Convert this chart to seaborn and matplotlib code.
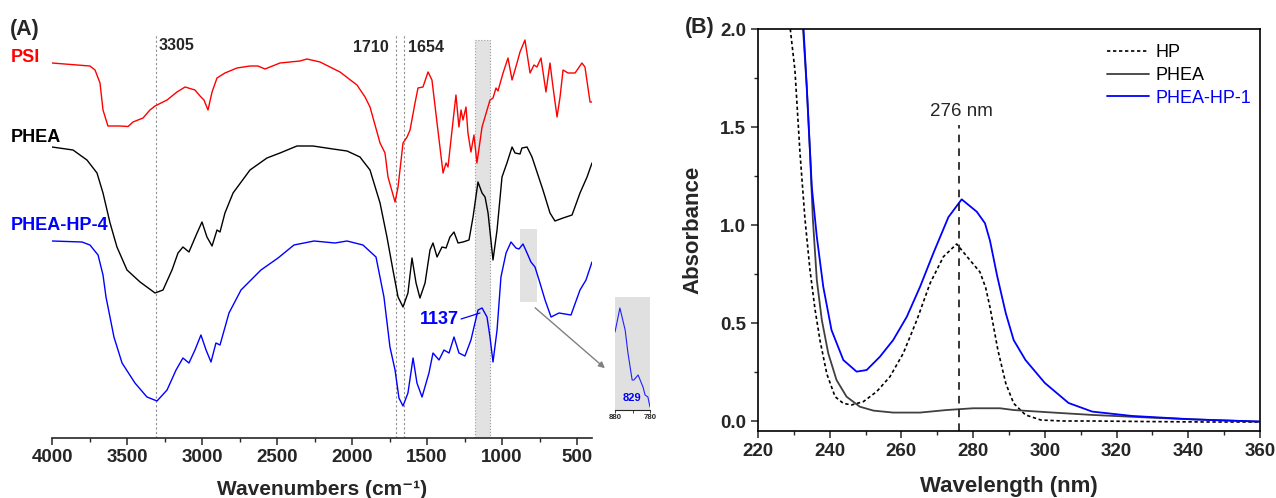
import numpy as np
import pandas as pd
import matplotlib
matplotlib.use("Agg")
import matplotlib.pyplot as plt
import seaborn as sns
from matplotlib.patches import Rectangle
from matplotlib.ticker import MultipleLocator
from matplotlib.lines import Line2D

# ---------------- (A) FTIR spectra, stacked (a.u., offsets included) ----------------
psi_wn = [4000, 3747, 3713, 3680, 3660, 3627, 3547, 3493, 3460, 3393, 3347, 3313, 3233, 3167,
          3113, 3047, 3013, 2987, 2960, 2933, 2900, 2847, 2767, 2680, 2627, 2580, 2480, 2347,
          2300, 2213, 2080, 1967, 1913, 1880, 1813, 1780, 1760, 1713, 1693, 1660, 1633, 1613,
          1580, 1560, 1527, 1493, 1467, 1433, 1393, 1373, 1360, 1333, 1307, 1287, 1273, 1260,
          1240, 1227, 1207, 1187, 1167, 1133, 1080, 1060, 1040, 1027, 993, 960, 933, 900, 880,
          847, 813, 787, 767, 740, 707, 680, 660, 633, 613, 593, 560, 513, 467, 447, 413, 400]
psi_t = [3.75, 3.72, 3.68, 3.55, 3.28, 3.12, 3.12, 3.115, 3.16, 3.20, 3.28, 3.32, 3.38, 3.46,
         3.51, 3.48, 3.42, 3.38, 3.28, 3.46, 3.60, 3.65, 3.70, 3.72, 3.72, 3.69, 3.75, 3.77,
         3.79, 3.76, 3.66, 3.53, 3.41, 3.31, 2.95, 2.85, 2.61, 2.36, 2.51, 2.95, 3.01, 3.08,
         3.35, 3.50, 3.51, 3.66, 3.58, 3.15, 2.65, 2.75, 2.71, 3.08, 3.43, 3.11, 3.28, 3.18,
         3.31, 3.05, 2.86, 3.03, 2.75, 3.11, 3.38, 3.40, 3.50, 3.47, 3.65, 3.80, 3.58, 3.75, 3.86,
         3.98, 3.65, 3.73, 3.71, 3.80, 3.46, 3.75, 3.51, 3.21, 3.41, 3.68, 3.65, 3.65, 3.75, 3.71, 3.36, 3.36]

phea_wn = [4000, 3860, 3767, 3700, 3660, 3613, 3567, 3500, 3413, 3313, 3260, 3200, 3160, 3127,
           3087, 3033, 3000, 2967, 2933, 2900, 2880, 2847, 2793, 2680, 2567, 2480, 2367, 2260,
           2127, 2033, 1947, 1880, 1813, 1767, 1727, 1693, 1660, 1627, 1600, 1573, 1547, 1513,
           1480, 1460, 1433, 1400, 1373, 1347, 1320, 1293, 1260, 1220, 1193, 1160, 1133, 1113,
           1093, 1060, 1033, 1000, 967, 933, 913, 880, 867, 833, 800, 727, 680, 647, 593, 533,
           480, 433, 400]
phea_t = [2.91, 2.88, 2.78, 2.65, 2.45, 2.15, 1.91, 1.68, 1.56, 1.45, 1.48, 1.68, 1.85, 1.91,
          1.86, 2.05, 2.16, 2.01, 1.92, 2.08, 2.06, 2.25, 2.45, 2.68, 2.80, 2.85, 2.92, 2.92,
          2.89, 2.87, 2.81, 2.68, 2.35, 2.01, 1.68, 1.41, 1.31, 1.45, 1.80, 1.55, 1.40, 1.55,
          1.88, 1.95, 1.81, 1.91, 1.90, 2.01, 2.06, 1.95, 1.96, 1.98, 2.21, 2.56, 2.45, 2.41,
          2.25, 1.78, 2.08, 2.61, 2.75, 2.91, 2.85, 2.84, 2.90, 2.91, 2.81, 2.48, 2.25, 2.17, 2.20, 2.23,
          2.45, 2.61, 2.75]

hp4_wn = [4000, 3800, 3747, 3693, 3660, 3640, 3587, 3533, 3447, 3367, 3300, 3233, 3173, 3127,
          3087, 3047, 3007, 2973, 2940, 2907, 2880, 2820, 2740, 2607, 2493, 2387, 2253, 2113,
          2033, 1927, 1840, 1787, 1747, 1713, 1687, 1660, 1627, 1593, 1567, 1533, 1487, 1460,
          1420, 1387, 1353, 1320, 1287, 1247, 1207, 1160, 1133, 1100, 1080, 1060, 1033, 1007,
          973, 940, 907, 887, 860, 833, 807, 780, 753, 713, 673, 620, 540, 480, 440, 400]
hp4_t = [1.97, 1.96, 1.93, 1.83, 1.63, 1.41, 1.01, 0.75, 0.55, 0.41, 0.37, 0.48, 0.68, 0.80,
         0.75, 0.88, 1.03, 0.88, 0.76, 0.95, 0.93, 1.25, 1.48, 1.68, 1.80, 1.93, 1.97, 1.95,
         1.97, 1.93, 1.81, 1.41, 0.91, 0.68, 0.40, 0.32, 0.45, 0.80, 0.55, 0.41, 0.65, 0.85,
         0.78, 0.88, 0.85, 1.01, 0.85, 0.82, 0.98, 1.28, 1.30, 1.21, 1.01, 0.76, 1.08, 1.61,
         1.85, 1.96, 1.90, 1.89, 1.94, 1.85, 1.76, 1.71, 1.58, 1.38, 1.21, 1.25, 1.23, 1.48, 1.58, 1.76]

# zoomed inset of PHEA-HP-4, 880-780 cm-1
inset_wn = [880, 866, 851, 843, 831, 826, 814, 800, 794, 786, 780]
inset_t = [0.78, 1.02, 0.80, 0.57, 0.30, 0.30, 0.35, 0.23, 0.15, 0.13, 0.03]

ftir_marks = [3305, 1710, 1654]

# ---------------- (B) UV-Vis ----------------
hp_wl = [228.5, 229.0, 230.3, 231.7, 233.1, 234.5, 235.9, 237.3, 239.2, 241.5, 243.8, 246.1,
         249.4, 253.1, 256.8, 260.5, 264.3, 268.0, 271.7, 275.4, 279.1, 281.9, 283.5, 284.7,
         286.9, 289.1, 291.3, 294.6, 298.9, 305, 313, 330, 345, 360]
hp_abs = [2.2, 2.0, 1.79, 1.37, 1.03, 0.77, 0.57, 0.41, 0.24, 0.124, 0.09, 0.082,
          0.099, 0.15, 0.226, 0.345, 0.515, 0.703, 0.838, 0.903, 0.821, 0.76, 0.68, 0.58,
          0.362, 0.192, 0.09, 0.031, 0.005, 0.0, 0.0, -0.003, -0.005, -0.005]

phea_wl = [232.0, 232.5, 233.6, 234.5, 235.3, 236.4, 237.8, 239.6, 241.9, 244.7, 248.4, 252.2,
           257.7, 265.2, 272.6, 280.0, 287.5, 291.3, 302.3, 313.2, 329.6, 346.1, 360]
phea_abs = [2.2, 2.02, 1.70, 1.37, 1.03, 0.72, 0.515, 0.345, 0.209, 0.124, 0.073, 0.053,
            0.043, 0.043, 0.056, 0.065, 0.065, 0.056, 0.043, 0.031, 0.017, 0.005, -0.003]

hp1_wl = [232.2, 232.7, 233.6, 235.0, 236.4, 238.2, 240.5, 243.8, 247.5, 250.3, 254.0, 257.7,
          261.5, 265.2, 268.9, 273.1, 276.8, 281.0, 283.3, 284.7, 286.7, 289.1, 291.3, 294.6,
          300.0, 306.6, 313.2, 324.2, 340.6, 360]
hp1_abs = [2.2, 2.0, 1.706, 1.195, 0.94, 0.685, 0.464, 0.311, 0.252, 0.26, 0.328, 0.413,
           0.532, 0.685, 0.856, 1.04, 1.131, 1.068, 1.009, 0.92, 0.74, 0.55, 0.413, 0.311,
           0.194, 0.092, 0.048, 0.026, 0.009, -0.003]

W, H = 1276, 498
sns.set_style("ticks")
plt.rcParams["font.family"] = ["Liberation Sans", "DejaVu Sans"]
plt.rcParams["font.weight"] = "bold"
plt.rcParams["axes.labelweight"] = "bold"


def fx(px):
    return px / W


def fy(py):
    return 1 - py / H


fig = plt.figure(figsize=(W / 100, H / 100), dpi=100)
fig.patch.set_facecolor("white")

# ======== panel A ========
axA = fig.add_axes([fx(52), fy(438), fx(592) - fx(52), fy(0) - fy(438)])
axA.set_facecolor("none")
ftir = pd.concat([
    pd.DataFrame({"wn": psi_wn, "t": psi_t, "s": "PSI"}),
    pd.DataFrame({"wn": phea_wn, "t": phea_t, "s": "PHEA"}),
    pd.DataFrame({"wn": hp4_wn, "t": hp4_t, "s": "PHEA-HP-4"}),
])
sns.lineplot(data=ftir, x="wn", y="t", hue="s", units="s", estimator=None, sort=False,
             palette={"PSI": "#ff0000", "PHEA": "black", "PHEA-HP-4": "#0000ff"},
             linewidth=1.0, legend=False, ax=axA)
axA.set_xlim(4000, 400)
axA.set_ylim(0, 4.38)
axA.axvspan(1180, 1080, ymin=0, ymax=3.98 / 4.38, facecolor="#e2e2e2", edgecolor="#9a9a9a",
            linestyle=":", linewidth=0.8, zorder=0)
axA.vlines(ftir_marks, 0, 4.03, colors="#909090", linestyles=(0, (2, 2)), linewidth=0.8, zorder=0)
axA.add_patch(Rectangle((880, 1.36), -110, 0.73, facecolor="#e2e2e2", edgecolor="none", zorder=0))
for sp in ["left", "top", "right"]:
    axA.spines[sp].set_visible(False)
axA.spines["bottom"].set_linewidth(1.2)
axA.set_yticks([])
axA.xaxis.set_major_locator(MultipleLocator(500))
axA.xaxis.set_minor_locator(MultipleLocator(250))
axA.tick_params(axis="x", which="major", direction="out", length=5, width=1.1, labelsize=13.5, pad=3)
axA.tick_params(axis="x", which="minor", direction="out", length=3, width=1.0)
axA.set_xlabel("Wavenumbers (cm⁻¹)", fontsize=15, labelpad=10)
axA.set_ylabel("")

axA.text(1287, 1.18, "1137", color="#0000ff", fontsize=13, ha="right", va="center")
axA.plot([1273, 1147], [1.19, 1.25], color="#0000ff", lw=0.9)
axA.annotate("", xy=(300, 0.68), xytext=(793, 1.32), annotation_clip=False,
             arrowprops=dict(arrowstyle="-|>", color="#808080", lw=1.0, mutation_scale=9))

fig.text(fx(10), fy(29), "(A)", fontsize=15.5, ha="left", va="center")
fig.text(fx(11), fy(57), "PSI", fontsize=13, color="#ff0000", ha="left", va="center")
fig.text(fx(11), fy(138), "PHEA", fontsize=13, color="black", ha="left", va="center")
fig.text(fx(11), fy(226), "PHEA-HP-4", fontsize=13, color="#0000ff", ha="left", va="center")
fig.text(fx(159), fy(46), "3305", fontsize=11.5, ha="left", va="center")
fig.text(fx(353), fy(48), "1710", fontsize=11.5, ha="left", va="center")
fig.text(fx(408), fy(48), "1654", fontsize=11.5, ha="left", va="center")

# inset
axI = fig.add_axes([fx(615), fy(410), fx(650) - fx(615), fy(297) - fy(410)])
axI.set_facecolor("#e0e0e0")
sns.lineplot(x=inset_wn, y=inset_t, sort=False, estimator=None, color="#2020ff", linewidth=0.8, ax=axI)
axI.set_xlim(880, 780)
axI.set_ylim(0, 1.13)
for sp in ["left", "top", "right"]:
    axI.spines[sp].set_visible(False)
axI.spines["bottom"].set_linewidth(0.8)
axI.set_yticks([])
axI.set_xticks([880, 780])
axI.set_xticks([830], minor=True)
axI.tick_params(axis="x", which="both", direction="out", length=2, width=0.6, labelsize=5.6, pad=1)
axI.text(831, 0.12, "829", color="#0000ff", fontsize=8, ha="center", va="center")

# ======== panel B ========
axB = fig.add_axes([fx(758), fy(431), fx(1260) - fx(758), fy(29) - fy(431)])
sns.lineplot(x=hp_wl, y=hp_abs, sort=False, estimator=None, color="black", linewidth=1.2,
             linestyle=(0, (2, 1.6)), ax=axB)
sns.lineplot(x=phea_wl, y=phea_abs, sort=False, estimator=None, color="#404040", linewidth=1.3, ax=axB)
sns.lineplot(x=hp1_wl, y=hp1_abs, sort=False, estimator=None, color="#0000ff", linewidth=1.3, ax=axB)
axB.set_xlim(220, 360)
axB.set_ylim(-0.051, 2.0)
axB.vlines(276, -0.051, 1.51, colors="black", linestyles=(0, (5, 4)), linewidth=1.1)
axB.text(276.8, 1.58, "276 nm", fontsize=13.5, fontweight="normal", ha="center", va="center")
for sp in axB.spines.values():
    sp.set_linewidth(1.2)
    sp.set_color("black")
axB.xaxis.set_major_locator(MultipleLocator(20))
axB.xaxis.set_minor_locator(MultipleLocator(10))
axB.yaxis.set_major_locator(MultipleLocator(0.5))
axB.yaxis.set_minor_locator(MultipleLocator(0.25))
axB.tick_params(which="major", direction="out", length=5, width=1.1, labelsize=13.5)
axB.tick_params(which="minor", direction="out", length=3, width=1.0)
axB.set_xlabel("Wavelength (nm)", fontsize=16, labelpad=12)
axB.set_ylabel("Absorbance", fontsize=16, labelpad=12)
fig.text(fx(685), fy(28), "(B)", fontsize=15.5, ha="left", va="center")

handles = [
    Line2D([], [], color="black", lw=1.2, linestyle=(0, (2, 1.6))),
    Line2D([], [], color="#404040", lw=1.3),
    Line2D([], [], color="#0000ff", lw=1.3),
]
leg = axB.legend(handles, ["HP", "PHEA", "PHEA-HP-1"], loc="upper left",
                 bbox_to_anchor=(fx(1091), fy(28)), bbox_transform=fig.transFigure,
                 frameon=False, handlelength=2.3, handletextpad=0.35, labelspacing=0.32,
                 prop={"size": 13, "weight": "normal"})
for txt, c in zip(leg.get_texts(), ["black", "black", "#0000ff"]):
    txt.set_color(c)

fig.savefig("out.png", dpi=100)
